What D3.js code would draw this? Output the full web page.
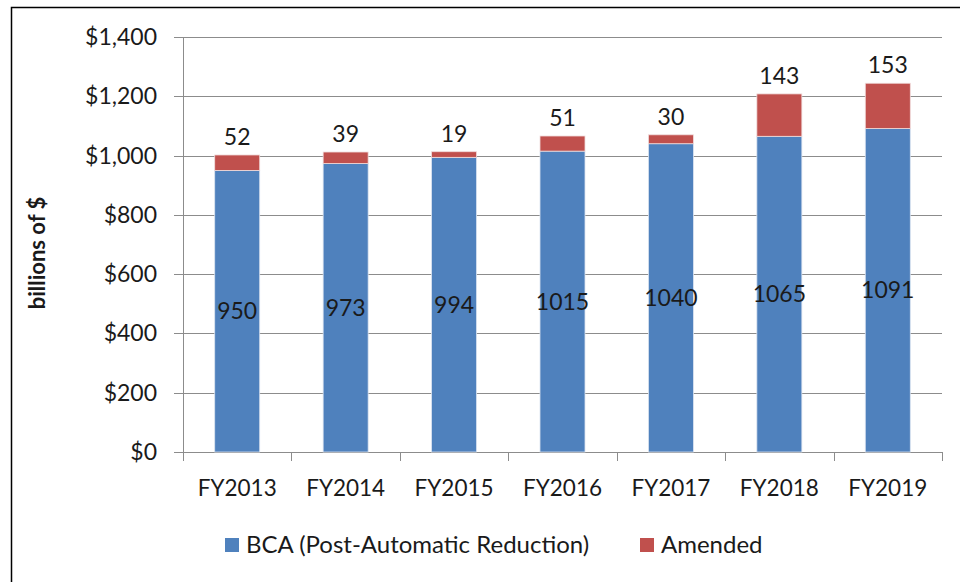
<!DOCTYPE html>
<html>
<head>
<meta charset="utf-8">
<script src="https://cdn.jsdelivr.net/npm/d3@7"></script>
<style>
  body { margin: 0; background: #fff; }
  svg text { font-family: Lato, "Open Sans", sans-serif; fill: #1a1a1a; }
</style>
</head>
<body>
<div id="chart_div"></div>
<script>
var years = ['FY2013', 'FY2014', 'FY2015', 'FY2016', 'FY2017', 'FY2018', 'FY2019'];
var bca = [950, 973, 994, 1015, 1040, 1065, 1091];
var amended = [52, 39, 19, 51, 30, 143, 153];
var y_ticks = [0, 200, 400, 600, 800, 1000, 1200, 1400];
var series_names = ['BCA (Post-Automatic Reduction)', 'Amended'];
var colors = ['#4f81bd', '#c0504d'];

function chart() {
    var width = 960, height = 582;
    var plot = { left: 183, right: 942, top: 37, bottom: 452 };

    var svg = d3.select('#chart_div')
        .append('svg')
        .attr('width', width)
        .attr('height', height);

    // outer frame (only top and left edges are visible)
    svg.append('path')
        .attr('d', `M11.5,${height} V7.5 H${width}`)
        .attr('fill', 'none')
        .attr('stroke', '#000')
        .attr('stroke-width', 1.5);

    var x = d3.scaleBand().domain(years).range([plot.left, plot.right]).paddingInner(0.585).paddingOuter(0.2925);
    var y = d3.scaleLinear().domain([0, 1400]).range([plot.bottom, plot.top]);

    // grid lines
    svg.append('g')
        .selectAll('line')
        .data(y_ticks)
        .enter()
        .append('line')
        .attr('x1', plot.left - 9)
        .attr('x2', plot.right)
        .attr('y1', function(d) { return Math.round(y(d)) + 0.5; })
        .attr('y2', function(d) { return Math.round(y(d)) + 0.5; })
        .attr('stroke', '#8c8c8c')
        .attr('stroke-width', 1);

    // y labels
    svg.append('g')
        .selectAll('text')
        .data(y_ticks)
        .enter()
        .append('text')
        .attr('x', plot.left - 26)
        .attr('y', function(d) { return y(d); })
        .attr('dy', '0.35em')
        .attr('text-anchor', 'end')
        .style('font-size', '23px')
        .text(function(d) { return '$' + d3.format(',')(d); });

    // y axis line
    svg.append('line')
        .attr('x1', plot.left + 0.5).attr('x2', plot.left + 0.5)
        .attr('y1', plot.top).attr('y2', plot.bottom + 9)
        .attr('stroke', '#8c8c8c');

    // x axis ticks between categories
    var step = (plot.right - plot.left) / years.length;
    svg.append('g')
        .selectAll('line')
        .data(d3.range(years.length + 1))
        .enter()
        .append('line')
        .attr('x1', function(i) { return Math.round(plot.left + i * step) + 0.5; })
        .attr('x2', function(i) { return Math.round(plot.left + i * step) + 0.5; })
        .attr('y1', plot.bottom)
        .attr('y2', plot.bottom + 9)
        .attr('stroke', '#8c8c8c');

    // x labels
    svg.append('g')
        .selectAll('text')
        .data(years)
        .enter()
        .append('text')
        .attr('x', function(d) { return x(d) + x.bandwidth() / 2; })
        .attr('y', 488)
        .attr('dy', '0.35em')
        .attr('text-anchor', 'middle')
        .style('font-size', '22.5px')
        .text(function(d) { return d; });

    // stacked bars
    var rows = years.map(function(yr, i) { return { year: yr, bca: bca[i], amended: amended[i] }; });

    var bars = svg.append('g');
    bars.selectAll('rect.bca')
        .data(rows)
        .enter()
        .append('rect')
        .attr('class', 'bca')
        .attr('x', function(d) { return x(d.year); })
        .attr('width', x.bandwidth())
        .attr('y', function(d) { return y(d.bca); })
        .attr('height', function(d) { return y(0) - y(d.bca); })
        .attr('fill', colors[0])
        .attr('stroke', '#dbe4f0')
        .attr('stroke-width', 0.8);

    bars.selectAll('rect.amended')
        .data(rows)
        .enter()
        .append('rect')
        .attr('class', 'amended')
        .attr('x', function(d) { return x(d.year); })
        .attr('width', x.bandwidth())
        .attr('y', function(d) { return y(d.bca + d.amended); })
        .attr('height', function(d) { return y(d.bca) - y(d.bca + d.amended); })
        .attr('fill', colors[1])
        .attr('stroke', '#f0dcdc')
        .attr('stroke-width', 0.8);

    // labels inside blue bars
    svg.append('g')
        .selectAll('text')
        .data(rows)
        .enter()
        .append('text')
        .attr('x', function(d) { return x(d.year) + x.bandwidth() / 2; })
        .attr('y', function(d) { return y(d.bca / 2); })
        .attr('dy', '0.35em')
        .attr('text-anchor', 'middle')
        .style('font-size', '23px')
        .text(function(d) { return d.bca; });

    // labels above bars
    svg.append('g')
        .selectAll('text')
        .data(rows)
        .enter()
        .append('text')
        .attr('x', function(d) { return x(d.year) + x.bandwidth() / 2; })
        .attr('y', function(d) { return y(d.bca + d.amended) - 18; })
        .attr('dy', '0.35em')
        .attr('text-anchor', 'middle')
        .style('font-size', '23px')
        .text(function(d) { return d.amended; });

    // y axis title
    svg.append('text')
        .attr('transform', 'translate(37, 253) rotate(-90)')
        .attr('text-anchor', 'middle')
        .attr('dy', '0.35em')
        .style('font-size', '22px')
        .style('font-weight', 700)
        .text('billions of $');

    // legend
    var legend_pos = [{ sx: 225, tx: 246 }, { sx: 640, tx: 661 }];
    var legend = svg.append('g');
    legend.selectAll('rect')
        .data(series_names)
        .enter()
        .append('rect')
        .attr('x', function(d, i) { return legend_pos[i].sx; })
        .attr('y', 538)
        .attr('width', 14)
        .attr('height', 14)
        .attr('fill', function(d, i) { return colors[i]; });
    legend.selectAll('text')
        .data(series_names)
        .enter()
        .append('text')
        .attr('x', function(d, i) { return legend_pos[i].tx; })
        .attr('y', 545)
        .attr('dy', '0.35em')
        .style('font-size', '24px')
        .text(function(d) { return d; });
}

chart();
</script>
</body>
</html>
